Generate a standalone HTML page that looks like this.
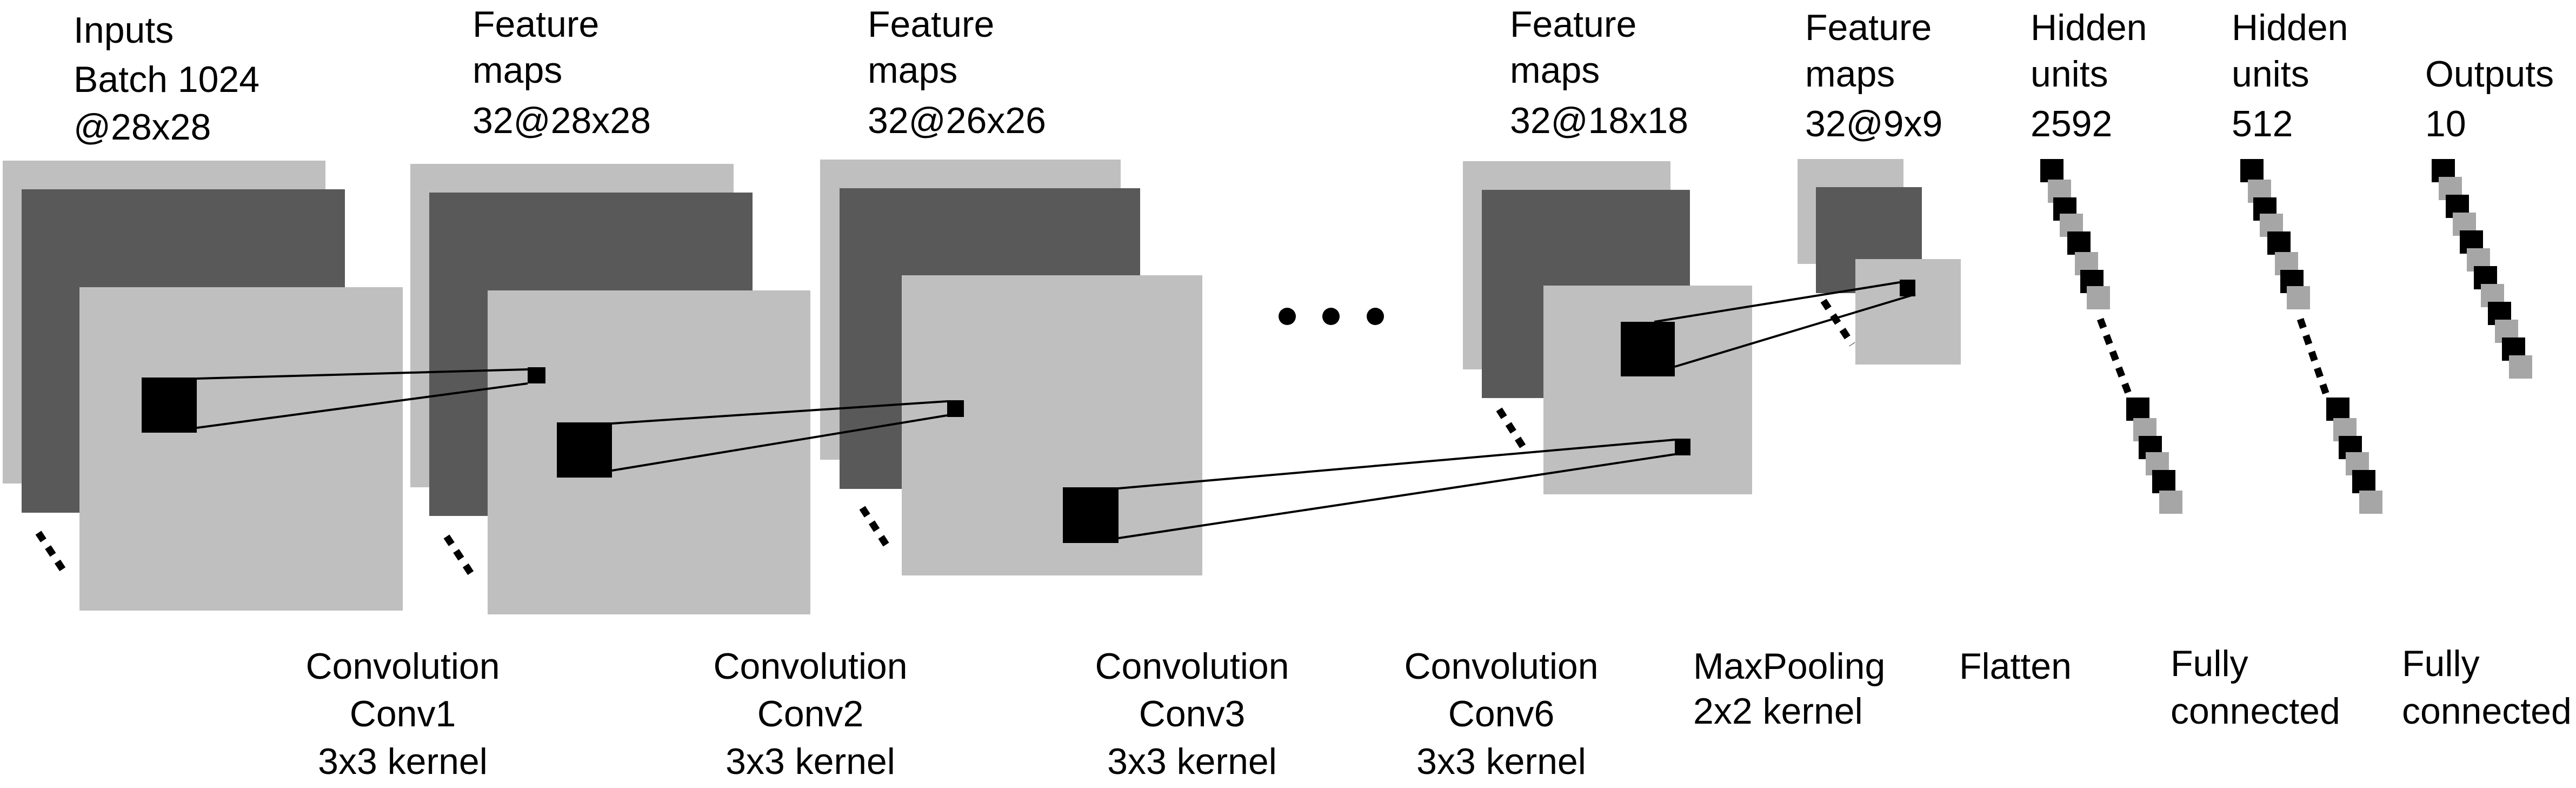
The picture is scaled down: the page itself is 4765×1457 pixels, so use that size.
<!DOCTYPE html>
<html><head><meta charset="utf-8"><style>
html,body{margin:0;padding:0;background:#fff;}
svg{display:block}
text{font-family:"Liberation Sans",sans-serif;font-size:68px;fill:#000}
</style></head><body>
<svg width="4765" height="1457" viewBox="0 0 4765 1457" xmlns="http://www.w3.org/2000/svg">
<g fill="#bfbfbf">
<rect x="5" y="297" width="597" height="597"/>
<rect x="759" y="303" width="598" height="598"/>
<rect x="1517" y="295" width="556" height="555"/>
<rect x="2706" y="298" width="384" height="385"/>
<rect x="3325" y="294" width="196" height="194"/>
</g>
<g fill="#595959">
<rect x="40" y="350" width="598" height="598"/>
<rect x="794" y="356" width="598" height="598"/>
<rect x="1553" y="348" width="556" height="556"/>
<rect x="2741" y="351" width="385" height="385"/>
<rect x="3359" y="346" width="196" height="196"/>
</g>
<g fill="#bfbfbf">
<rect x="147" y="531" width="598" height="598"/>
<rect x="902" y="537" width="597" height="599"/>
<rect x="1668" y="509" width="556" height="555"/>
<rect x="2855" y="528" width="386" height="386"/>
<rect x="3432" y="479" width="195" height="195"/>
</g>
<g fill="#000">
<rect x="262" y="698" width="102" height="102"/>
<rect x="976" y="679" width="33" height="30"/>
<rect x="1030" y="781" width="102" height="102"/>
<rect x="1752" y="740" width="31" height="31"/>
<rect x="1966" y="901" width="103" height="103"/>
<rect x="3098" y="811" width="29" height="31"/>
<rect x="2998" y="595" width="100" height="101"/>
<rect x="3514" y="517" width="29" height="31"/>
<circle cx="2381" cy="585" r="16"/>
<circle cx="2462" cy="585" r="16"/>
<circle cx="2544" cy="585" r="16"/>
</g>
<g stroke="#000" stroke-width="4" fill="none">
<line x1="364" y1="700" x2="976" y2="683"/>
<line x1="364" y1="791" x2="976" y2="709"/>
<line x1="1132" y1="783" x2="1752" y2="742"/>
<line x1="1132" y1="870" x2="1752" y2="768"/>
<line x1="2069" y1="903" x2="3098" y2="813"/>
<line x1="2069" y1="995" x2="3098" y2="840"/>
<line x1="3060" y1="595" x2="3514" y2="522"/>
<line x1="3098" y1="678" x2="3543" y2="544"/>
</g>
<g stroke="#000" stroke-width="13" stroke-dasharray="17 15" fill="none">
<line x1="71" y1="985" x2="120" y2="1059"/>
<line x1="826" y1="992" x2="875" y2="1066"/>
<line x1="1595" y1="939" x2="1645" y2="1016"/>
<line x1="2773" y1="757" x2="2821" y2="832"/>
<line x1="3373" y1="556" x2="3426" y2="637"/>
<line x1="3885" y1="590" x2="3940" y2="735"/>
<line x1="4255" y1="590" x2="4305" y2="735"/>
</g>
<g id="sq">
<rect x="3774" y="294" width="43" height="43" fill="#000"/>
<rect x="3788" y="332" width="43" height="43" fill="#a6a6a6"/>
<rect x="3798" y="365" width="43" height="43" fill="#000"/>
<rect x="3810" y="395" width="43" height="43" fill="#a6a6a6"/>
<rect x="3824" y="428" width="43" height="43" fill="#000"/>
<rect x="3838" y="466" width="43" height="43" fill="#a6a6a6"/>
<rect x="3848" y="499" width="43" height="43" fill="#000"/>
<rect x="3860" y="529" width="43" height="43" fill="#a6a6a6"/>
<rect x="3933" y="735" width="43" height="43" fill="#000"/>
<rect x="3946" y="773" width="43" height="43" fill="#a6a6a6"/>
<rect x="3956" y="806" width="43" height="43" fill="#000"/>
<rect x="3969" y="836" width="43" height="43" fill="#a6a6a6"/>
<rect x="3981" y="869" width="43" height="43" fill="#000"/>
<rect x="3994" y="907" width="43" height="43" fill="#a6a6a6"/>
</g>
<use href="#sq" x="370" y="0"/>
<g>
<rect x="4498" y="294" width="43" height="43" fill="#000"/>
<rect x="4511" y="327" width="43" height="43" fill="#a6a6a6"/>
<rect x="4524" y="360" width="43" height="43" fill="#000"/>
<rect x="4537" y="393" width="43" height="43" fill="#a6a6a6"/>
<rect x="4550" y="426" width="43" height="43" fill="#000"/>
<rect x="4563" y="459" width="43" height="43" fill="#a6a6a6"/>
<rect x="4576" y="492" width="43" height="43" fill="#000"/>
<rect x="4589" y="525" width="43" height="43" fill="#a6a6a6"/>
<rect x="4602" y="558" width="43" height="43" fill="#000"/>
<rect x="4615" y="591" width="43" height="43" fill="#a6a6a6"/>
<rect x="4628" y="624" width="43" height="43" fill="#000"/>
<rect x="4641" y="657" width="43" height="43" fill="#a6a6a6"/>
</g>
<text x="136" y="79">Inputs</text>
<text x="136" y="170">Batch 1024</text>
<text x="136" y="258">@28x28</text>
<text x="874" y="68">Feature</text><text x="874" y="153">maps</text><text x="874" y="246">32@28x28</text>
<text x="1605" y="68">Feature</text><text x="1605" y="153">maps</text><text x="1605" y="246">32@26x26</text>
<text x="2793" y="68">Feature</text><text x="2793" y="153">maps</text><text x="2793" y="246">32@18x18</text>
<text x="3339" y="74">Feature</text><text x="3339" y="160">maps</text><text x="3339" y="252">32@9x9</text>
<text x="3756" y="74">Hidden</text><text x="3756" y="160">units</text><text x="3756" y="252">2592</text>
<text x="4128" y="74">Hidden</text><text x="4128" y="160">units</text><text x="4128" y="252">512</text>
<text x="4486" y="160">Outputs</text><text x="4486" y="252">10</text>
<g text-anchor="middle">
<text x="745" y="1255">Convolution</text><text x="745" y="1343">Conv1</text><text x="745" y="1431">3x3 kernel</text>
<text x="1499" y="1255">Convolution</text><text x="1499" y="1343">Conv2</text><text x="1499" y="1431">3x3 kernel</text>
<text x="2205" y="1255">Convolution</text><text x="2205" y="1343">Conv3</text><text x="2205" y="1431">3x3 kernel</text>
<text x="2777" y="1255">Convolution</text><text x="2777" y="1343">Conv6</text><text x="2777" y="1431">3x3 kernel</text>
</g>
<text x="3132" y="1255">MaxPooling</text><text x="3132" y="1338">2x2 kernel</text>
<text x="3624" y="1255">Flatten</text>
<text x="4015" y="1250">Fully</text><text x="4015" y="1338">connected</text>
<text x="4443" y="1250">Fully</text><text x="4443" y="1338">connected</text>
</svg>
</body></html>
